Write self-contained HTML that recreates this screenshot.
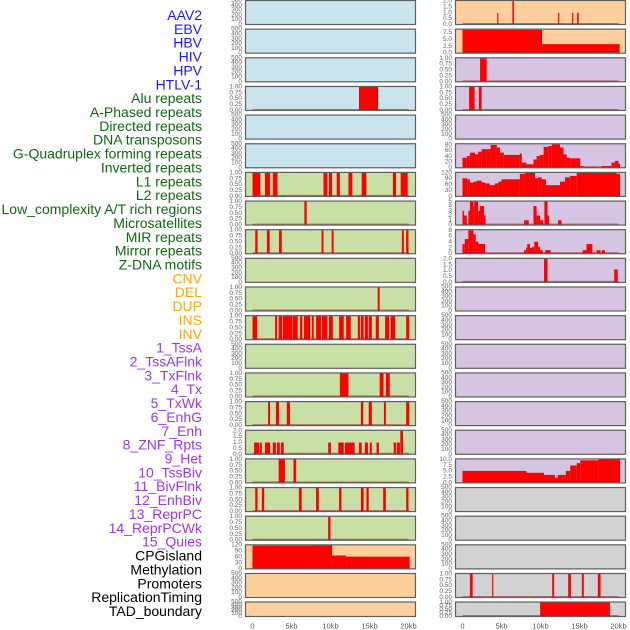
<!DOCTYPE html>
<html><head><meta charset="utf-8"><style>
html,body{margin:0;padding:0;background:#fff;width:630px;height:630px;overflow:hidden}
svg{display:block;font-family:"Liberation Sans",sans-serif}
</style></head><body>
<svg id="chart" width="630" height="630" viewBox="0 0 630 630"></svg>
<script>
// ---------- data ----------
const trackLabels = ["AAV2","EBV","HBV","HIV","HPV","HTLV-1","Alu repeats","A-Phased repeats","Directed repeats","DNA transposons","G-Quadruplex forming repeats","Inverted repeats","L1 repeats","L2 repeats","Low_complexity A/T rich regions","Microsatellites","MIR repeats","Mirror repeats","Z-DNA motifs","CNV","DEL","DUP","INS","INV","1_TssA","2_TssAFlnk","3_TxFlnk","4_Tx","5_TxWk","6_EnhG","7_Enh","8_ZNF_Rpts","9_Het","10_TssBiv","11_BivFlnk","12_EnhBiv","13_ReprPC","14_ReprPCWk","15_Quies","CPGisland","Methylation","Promoters","ReplicationTiming","TAD_boundary"];
const labelGroups = ["v","v","v","v","v","v","r","r","r","r","r","r","r","r","r","r","r","r","r","s","s","s","s","s","c","c","c","c","c","c","c","c","c","c","c","c","c","c","c","o","o","o","o","o"];
const xTickValues = [0,5,10,15,20];
const xTickLabels = ["0","5kb","10kb","15kb","20kb"];
const ticksEmpty = [0,100,200,300,400,500];
const ticksUnit = [0,0.25,0.5,0.75,1];
const ticksTwo = [0,0.5,1,1.5,2];
const ticksCpg = [0,30,60,90,120];
const ticksInv = [0,2.5,5,7.5];
const ticksGq = [0,20,40,60,80];
const ticksFive = [0,1,2,3,4,5];
const ticksEight = [0,2,4,6,8];
const ticksTen = [0,2.5,5,7.5,10];

// intervals: [start kb, end kb, value]
const hivIntervals = [[13.65,16.1,1]];
const aluIntervals = [[0,1.0,1],[1.6,2.25,1],[2.6,3.2,1],[9.1,9.6,1],[9.8,10.2,1],[10.8,11.2,1],[12.3,12.8,1],[14.0,14.6,1],[18.0,18.4,1],[19.0,19.9,1]];
const aPhasedIntervals = [[6.65,6.95,1]];
const directedIntervals = [[0.35,0.65,1],[1.85,2.2,1],[3.4,3.75,1],[8.85,9.1,1],[10.15,10.4,1],[19.15,19.4,1],[19.7,20.0,1]];
const gQuadLeftIntervals = [[16.05,16.3,1]];
const invertedIntervals = [[0,0.6,1],[2.9,3.15,1],[3.35,3.8,1],[3.9,5.1,1],[5.15,5.8,1],[6.1,6.4,1],[6.6,7.4,1],[7.6,7.85,1],[8.15,8.8,1],[8.9,9.6,1],[9.8,10.3,1],[11.1,11.7,1],[12.0,12.6,1],[13.5,13.8,1],[13.9,14.25,1],[14.4,14.8,1],[14.9,15.3,1],[15.8,16.2,1],[17.0,17.5,1],[17.7,18.3,1],[19.7,20.1,1]];
const l2Intervals = [[11.2,12.3,1],[16.3,16.8,1],[17.1,17.6,1]];
const lowCompIntervals = [[2.0,2.25,1],[3.0,3.4,1],[4.4,4.8,1],[13.9,14.2,1],[14.9,15.3,1],[16.85,17.1,1],[19.7,20.1,1]];
const microsatIntervals = [[0.2,0.85,1],[0.95,1.2,1],[1.6,2.25,1],[2.6,3.0,1],[3.15,3.5,1],[3.65,4.0,1],[9.7,10.05,1],[11.0,11.7,1],[11.85,13.1,1],[13.65,14.0,1],[14.4,14.8,1],[15.05,15.3,1],[15.9,16.2,1],[18.1,18.4,1],[18.5,18.9,1],[18.95,19.3,2]];
const mirIntervals = [[3.35,4.15,1],[5.25,5.6,1]];
const mirrorIntervals = [[0.35,0.65,1],[1.2,1.5,1],[5.95,6.3,1],[8.15,8.5,1],[11.1,11.4,1],[13.9,14.25,1],[14.6,14.9,1],[16.75,17.1,1],[19.7,20.0,1]];
const zdnaIntervals = [[9.7,10.0,1]];
const cnvIntervals = [[0,7.5,118],[7.5,10.2,120],[10.2,12.0,68],[12.0,20.15,62]];
const insIntervals = [[4.45,4.6,1],[6.4,6.6,2],[12.25,12.4,1],[14.05,14.2,1],[14.7,14.9,1]];
const invIntervals = [[0,10.2,8.6],[10.2,20.15,3.3]];
const tssaIntervals = [[2.25,3.1,1]];
const tssaflnkIntervals = [[0.85,1.55,1],[2.1,2.45,1]];
const txwkEdges = [0,0.55,0.95,1.6,2.0,2.45,3.1,3.6,4.4,4.8,5.3,7.35,7.6,8.2,9.1,9.5,9.9,10.4,11.0,11.45,12.5,12.95,13.35,13.8,15.1,15.5,17.2,17.85,19.1,19.55,20.0,20.2];
const txwkValues = [35,41,53,47,56,65,65,80,71,53,45,50,18,12,29,41,45,73,76,82,71,47,35,33,6,3,0,6,18,24,14];
const enhgEdges = [0,0.6,0.95,1.4,1.8,2.45,2.9,3.5,4.15,4.6,5.0,7.35,8.0,9.3,9.7,10.15,10.7,12.5,13.15,13.8,14.65,19.75,20.2];
const enhgValues = [92,87,70,75,80,71,66,57,66,75,87,115,120,92,97,87,57,75,97,104,120,115];
const enhIntervals = [[0,0.2,3],[0.2,0.55,2],[0.75,0.95,3],[0.95,1.4,5],[1.4,1.5,4],[1.5,2.0,5],[2.0,2.25,3],[2.25,2.75,4],[2.75,2.95,2],[7.9,8.5,1],[9.1,9.5,4],[9.5,9.95,2],[9.95,10.35,1],[10.5,10.9,5],[10.9,11.1,2],[12.25,12.7,1]];
const znfIntervals = [[0,0.3,3.3],[0.3,0.75,5],[0.75,1.4,8],[1.4,1.7,6.6],[1.7,2.05,4.1],[2.05,2.9,3.3],[7.9,8.15,1.2],[8.15,8.3,2.1],[8.3,8.65,3.3],[8.65,8.95,2],[8.95,9.2,2.4],[9.2,9.7,4.1],[9.7,9.95,2.4],[9.95,10.3,1.2],[10.6,11.3,1.2],[15.4,15.9,1.2],[15.9,16.65,3.3],[17.2,17.7,1.2],[17.85,18.25,1.2]];
const hetIntervals = [[10.45,10.9,2],[19.45,19.9,1.1]];
const quiesEdges = [0,8.2,10.45,11.85,12.2,13.25,13.8,14.65,15.1,17.4,20.2];
const quiesValues = [5.1,4.3,3.4,2.2,3.4,5.1,7.4,8.4,9.6,10.1];
const promoterIntervals = [[0.95,1.3,1],[3.8,3.95,1],[11.5,11.75,1],[13.55,13.9,1],[15.3,15.55,1],[17.35,17.7,1]];
const tadIntervals = [[9.95,18.9,1]];

// ---------- layout ----------
const NS = "http://www.w3.org/2000/svg";
const svg = document.getElementById("chart");
const PXKB = 7.8;
const colX = [245, 455];
const colX0 = [252.5, 462.5];
const PW = 171;
const fills = {lb:"#c9e4ec", gr:"#c8e0a5", or:"#ffd09e", pu:"#d5c5e2", gy:"#d2d2d2"};
const labelColors = {v:"#1a1aff", r:"#0f6a0f", s:"#ffa500", c:"#9d35ee", o:"#000000"};

function stepsToIntervals(edges, vals){ const out=[]; for(let i=0;i<vals.length;i++) out.push([edges[i],edges[i+1],vals[i]]); return out; }

function mk(tag, attrs){ const e=document.createElementNS(NS,tag); for(const k in attrs) e.setAttribute(k,attrs[k]); return e; }

// panels: [col,row,fill,ticks,ymax,intervals,name]
const panels = [
 [0,0,"lb",ticksEmpty,500,null,"aav2"],
 [0,1,"lb",ticksEmpty,500,null,"ebv"],
 [0,2,"lb",ticksEmpty,500,null,"hbv"],
 [0,3,"lb",ticksUnit,1.02,hivIntervals,"hiv"],
 [0,4,"lb",ticksEmpty,500,null,"hpv"],
 [0,5,"lb",ticksEmpty,500,null,"htlv-1"],
 [0,6,"gr",ticksUnit,1.02,aluIntervals,"alu-repeats"],
 [0,7,"gr",ticksUnit,1.02,aPhasedIntervals,"a-phased-repeats"],
 [0,8,"gr",ticksUnit,1.02,directedIntervals,"directed-repeats"],
 [0,9,"gr",ticksEmpty,500,null,"dna-transposons"],
 [0,10,"gr",ticksUnit,1.02,gQuadLeftIntervals,"g-quadruplex-repeats"],
 [0,11,"gr",ticksUnit,1.02,invertedIntervals,"inverted-repeats"],
 [0,12,"gr",ticksEmpty,500,null,"l1-repeats"],
 [0,13,"gr",ticksUnit,1.02,l2Intervals,"l2-repeats"],
 [0,14,"gr",ticksUnit,1.02,lowCompIntervals,"low-complexity-regions"],
 [0,15,"gr",ticksTwo,2.05,microsatIntervals,"microsatellites"],
 [0,16,"gr",ticksUnit,1.02,mirIntervals,"mir-repeats"],
 [0,17,"gr",ticksUnit,1.02,mirrorIntervals,"mirror-repeats"],
 [0,18,"gr",ticksUnit,1.02,zdnaIntervals,"z-dna-motifs"],
 [0,19,"or",ticksCpg,122,cnvIntervals,"cnv"],
 [0,20,"or",ticksEmpty,500,null,"del"],
 [0,21,"or",ticksEmpty,500,null,"dup"],
 [1,0,"or",ticksTwo,2.05,insIntervals,"ins"],
 [1,1,"or",ticksInv,8.8,invIntervals,"inv"],
 [1,2,"pu",ticksUnit,1.02,tssaIntervals,"1-tssa"],
 [1,3,"pu",ticksUnit,1.02,tssaflnkIntervals,"2-tssaflnk"],
 [1,4,"pu",ticksEmpty,500,null,"3-txflnk"],
 [1,5,"pu",ticksGq,84,stepsToIntervals(txwkEdges,txwkValues),"4-tx"],
 [1,6,"pu",ticksCpg,122,stepsToIntervals(enhgEdges,enhgValues),"5-txwk"],
 [1,7,"pu",ticksFive,5.05,enhIntervals,"6-enhg"],
 [1,8,"pu",ticksEight,8.2,znfIntervals,"7-enh"],
 [1,9,"pu",ticksTwo,2.05,hetIntervals,"8-znf-rpts"],
 [1,10,"pu",ticksEmpty,500,null,"9-het"],
 [1,11,"pu",ticksEmpty,500,null,"10-tssbiv"],
 [1,12,"pu",ticksEmpty,500,null,"11-bivflnk"],
 [1,13,"pu",ticksEmpty,500,null,"12-enhbiv"],
 [1,14,"pu",ticksEmpty,500,null,"13-reprpc"],
 [1,15,"pu",ticksEmpty,500,null,"14-reprpcwk"],
 [1,16,"pu",ticksTen,10.2,stepsToIntervals(quiesEdges,quiesValues),"15-quies"],
 [1,17,"gy",ticksEmpty,500,null,"cpgisland"],
 [1,18,"gy",ticksEmpty,500,null,"methylation"],
 [1,19,"gy",ticksEmpty,500,null,"promoters-empty"],
 [1,20,"gy",ticksUnit,1.02,promoterIntervals,"promoters"],
 [1,21,"gy",ticksUnit,1.02,tadIntervals,"tad-boundary"]
];

// labels
trackLabels.forEach((t,i)=>{
  const e=mk("text",{x:202,y:15+i*13.86,"text-anchor":"end","dominant-baseline":"central","font-size":"14",fill:labelColors[labelGroups[i]]});
  e.textContent=t;
  
  
  svg.appendChild(e);
});

panels.forEach(p=>{
  const [col,row,fk,ticks,ymax,data,name]=p;
  const top = row===21 ? 601.5 : row*28.65;
  const h = row===21 ? 15.5 : 25;
  const px = colX[col];
  const g = mk("g",{});
  
  
  svg.appendChild(g);
  const bg = mk("rect",{x:px,y:top,width:PW,height:h,fill:fills[fk]});
  
  
  g.appendChild(bg);
  const yS = v => top + h - 0.5 - (v/ymax)*(h-1);
  const xS = kb => colX0[col] + kb*PXKB;
  if (data){
    data.forEach(d=>{
      const y1=yS(d[2]);
      const r=mk("rect",{x:xS(d[0]),y:y1,width:Math.max(0.8,xS(d[1])-xS(d[0])),height:top+h-0.5-y1,fill:"#ff0000"});
      
      
      g.appendChild(r);
    });
    const bl=mk("rect",{x:xS(0),y:top+h-2,width:xS(20.05)-xS(0),height:1.5,fill:"rgba(150,30,30,0.55)"});
    
    
    g.appendChild(bl);
  }
  const fr=mk("rect",{x:px+0.5,y:top+0.5,width:PW-1,height:h-1,fill:"none",stroke:"#5f5f5f","stroke-width":"1.2"});
  
  
  g.appendChild(fr);
  const fmt = (ticks===ticksUnit) ? (v=>v.toFixed(2)) : ((ticks===ticksTwo||ticks===ticksInv||ticks===ticksTen) ? (v=>v.toFixed(1)) : (v=>String(v)));
  ticks.forEach(v=>{
    const t=mk("text",{x:px-3,y:yS(v),"text-anchor":"end","dominant-baseline":"central","font-size":"6.5",fill:"#666"});
    t.textContent=fmt(v);
    
    
    g.appendChild(t);
  });
});

// x axes
[0,1].forEach(col=>{
  xTickValues.forEach((v,i)=>{
    const t=mk("text",{x:colX0[col]+v*PXKB,y:626,"text-anchor":"middle","dominant-baseline":"central","font-size":"7.5",fill:"#555"});
    t.textContent=xTickLabels[i];
    
    
    svg.appendChild(t);
  });
});
</script>
</body></html>
